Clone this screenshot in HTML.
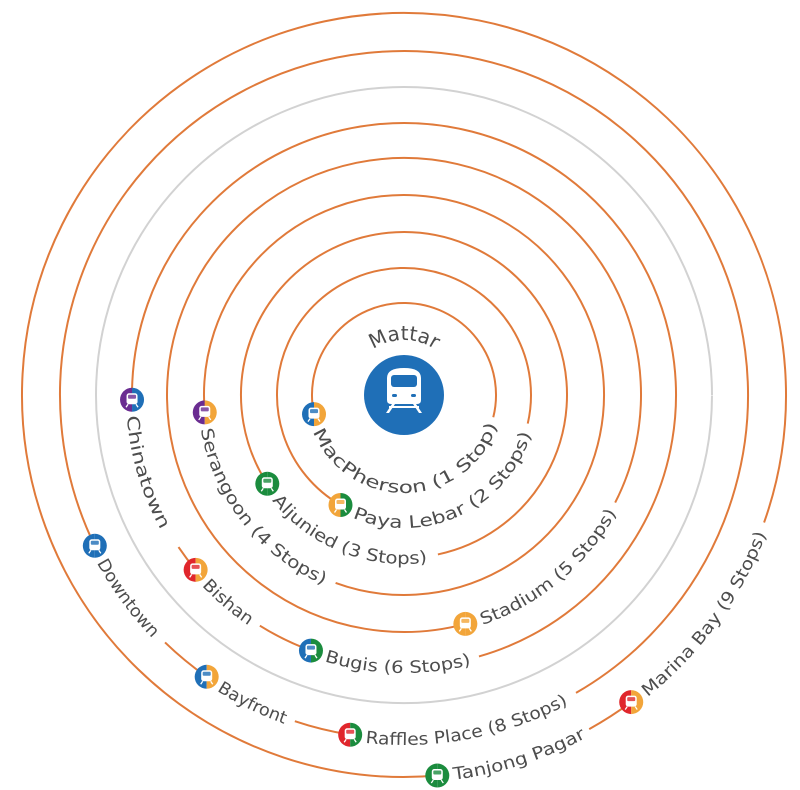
<!DOCTYPE html>
<html><head><meta charset="utf-8">
<style>
html,body{margin:0;padding:0;background:#fff;}
svg{display:block;}
text{font-family:"DejaVu Sans","Liberation Sans",sans-serif;fill:#4d4d4d;font-size:17px;}
</style></head>
<body>
<svg id="s" width="800" height="790" viewBox="0 0 800 790" xmlns="http://www.w3.org/2000/svg">
<defs id="d"></defs>
<g id="lines" fill="none" stroke-width="2"></g>
<circle cx="404" cy="395" r="40" fill="#1f6fb7"/>
<g fill="#fff">
<path d="M387 378 q0-10 17-10 q17 0 17 10 v22 q0 4-4 4 h-26 q-4 0-4-4z"/>
<rect x="391" y="375" width="26" height="12" rx="3" fill="#1f6fb7"/>
<rect x="392" y="394" width="5" height="3" rx="1.5" fill="#1f6fb7"/>
<rect x="411" y="394" width="5" height="3" rx="1.5" fill="#1f6fb7"/>
<path d="M392 404 l-6 9 h3 l6-9z M416 404 l6 9 h-3 l-6-9z"/>
<rect x="389" y="406" width="30" height="2"/>
</g>
<path id="mattarp" d="M349 395 A55 55 0 0 1 459 395" fill="none"/>
<text style="font-size:20px"><textPath href="#mattarp" startOffset="50%" text-anchor="middle">Mattar</textPath></text>
<g id="labels">
<text id="t_mac"><textPath href="#p_mac">MacPherson (1 Stop)</textPath></text>
<text id="t_paya"><textPath href="#p_paya">Paya Lebar (2 Stops)</textPath></text>
<text id="t_alj"><textPath href="#p_alj">Aljunied (3 Stops)</textPath></text>
<text id="t_ser"><textPath href="#p_ser">Serangoon (4 Stops)</textPath></text>
<text id="t_stad"><textPath href="#p_stad">Stadium (5 Stops)</textPath></text>
<text id="t_china"><textPath href="#p_china">Chinatown</textPath></text>
<text id="t_bishan"><textPath href="#p_bishan">Bishan</textPath></text>
<text id="t_bugis"><textPath href="#p_bugis">Bugis (6 Stops)</textPath></text>
<text id="t_down"><textPath href="#p_down">Downtown</textPath></text>
<text id="t_bay"><textPath href="#p_bay">Bayfront</textPath></text>
<text id="t_raf"><textPath href="#p_raf">Raffles Place (8 Stops)</textPath></text>
<text id="t_tanj"><textPath href="#p_tanj">Tanjong Pagar</textPath></text>
<text id="t_marina"><textPath href="#p_marina">Marina Bay (9 Stops)</textPath></text>
</g>
<g id="icons"></g>
</svg>
<script>
var cx=404,cy=395,NS="http://www.w3.org/2000/svg";
function P(r,a){a=a*Math.PI/180;return [(cx+r*Math.cos(a)).toFixed(2),(cy+r*Math.sin(a)).toFixed(2)];}
function arcD(r,a1,a2){var p1=P(r,a1),p2=P(r,a2);var sw=a2>a1?1:0;var lg=Math.abs(a2-a1)>180?1:0;
return "M"+p1[0]+" "+p1[1]+" A"+r+" "+r+" 0 "+lg+" "+sw+" "+p2[0]+" "+p2[1];}
var O="#e07a3a",G="#d2d2d2";
var segs=[[92,14,-192],[127,13,-240],[163,78,-213],[200,110,-185],[237,27,-285],
[272,146,140],[272,122,110],[272,74,-181],
[344,134,125],[344,108.5,99],[344,60,-206],
[382,61,53.5],[382,19.5,-275]];
var lines=document.getElementById("lines");
segs.forEach(function(s){var p=document.createElementNS(NS,"path");p.setAttribute("d",arcD(s[0],s[1],s[2]));p.setAttribute("stroke",O);lines.appendChild(p);});
[[0,-180],[-180,-359.9]].forEach(function(s){var p=document.createElementNS(NS,"path");p.setAttribute("d",arcD(308,s[0],s[1]));p.setAttribute("stroke",G);lines.appendChild(p);});
var B="#1f6fb7",Or="#f2a53a",Pu="#6a2c91",Gr="#1b8c3e",R="#e0262c";
var labels=[["mac",92,168,18,B,Or],["paya",127,120,17,Or,Gr],["alj",163,147,82,Gr,Gr],["ser",200,175,113,Pu,Or],
["stad",237,75,29,Or,Or],["china",272,179,151,Pu,B],["bishan",272,140,124,R,Or],["bugis",272,110,76,B,Gr],
["down",344,154,136,B,B],["bay",344,125,110,B,Or],["raf",344,99,62,R,Gr],["tanj",382,85,62,Gr,Gr],["marina",382,53.5,21,R,Or]];
var defs=document.getElementById("d"),icons=document.getElementById("icons");
labels.forEach(function(l){var r=l[1],a=l[2],e=l[3];var d=16/r*180/Math.PI;var st=a-d;var rb=r+6;
var p=document.createElementNS(NS,"path");p.setAttribute("id","p_"+l[0]);p.setAttribute("d",arcD(rb,st,st-170));defs.appendChild(p);
var len=(st-e)*Math.PI/180*rb;var t=document.getElementById("t_"+l[0]);t.setAttribute("textLength",len.toFixed(1));t.setAttribute("lengthAdjust","spacingAndGlyphs");
var c=P(r,a),x=+c[0],y=+c[1];
var g=document.createElementNS(NS,"g");
g.innerHTML='<path d="M'+x+' '+(y-12)+' A12 12 0 0 0 '+x+' '+(y+12)+'z" fill="'+l[4]+'"/>'+
'<path d="M'+x+' '+(y-12)+' A12 12 0 0 1 '+x+' '+(y+12)+'z" fill="'+l[5]+'"/>'+
'<rect x="'+(x-5.5)+'" y="'+(y-6.5)+'" width="11" height="11" rx="2.5" fill="#fff"/>'+
'<rect x="'+(x-4)+'" y="'+(y-5)+'" width="8" height="4" rx="1" fill="'+l[4]+'" opacity="0.8"/>'+
'<path d="M'+(x-4)+' '+(y+4.5)+' l-2 3 M'+(x+4)+' '+(y+4.5)+' l2 3" stroke="#fff" stroke-width="1.3"/>';
icons.appendChild(g);});
</script>
</body></html>
